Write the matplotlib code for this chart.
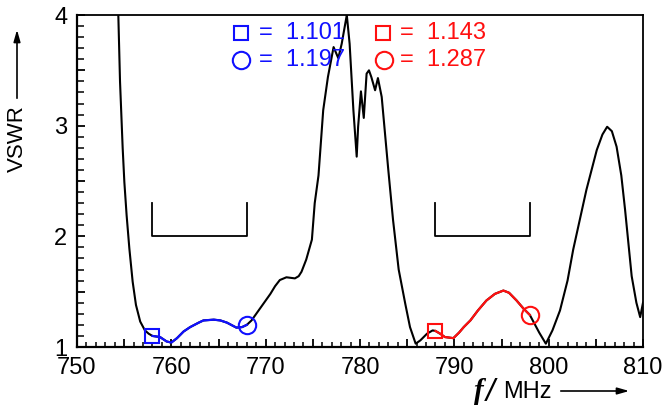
import matplotlib
matplotlib.use("Agg")
import matplotlib.pyplot as plt
from matplotlib.ticker import MultipleLocator, FuncFormatter

# ---- data ----
freq_all = [754.3, 754.38, 754.56, 754.84, 755.02, 755.26, 755.55, 755.9, 756.25, 756.7, 757.2, 757.6, 758.0,
            758.8, 759.5, 760.0, 760.6, 761.3, 762.0, 762.9, 763.4, 764.5, 765.2, 765.9, 766.9, 767.5, 768.0,
            768.5, 769.0, 769.5, 770.0, 770.5, 771.0, 771.5, 772.2, 773.1, 773.5, 773.8, 774.3, 774.9,
            775.2, 775.6, 776.1, 776.6, 777.2, 777.7, 778.06, 778.6, 778.9, 779.3, 779.65, 779.8, 780.1,
            780.4, 780.7, 780.95, 781.2, 781.6, 781.9, 782.3, 783.0, 783.5, 784.1, 784.8, 785.3, 785.9,
            786.4, 787.1, 787.7, 788.0,
            788.5, 789.0, 789.9, 790.5, 791.0, 791.7, 792.5, 793.4, 794.3, 795.2, 795.8, 796.6, 797.3, 798.0,
            798.5, 799.0, 799.7, 800.4, 801.2, 802.0, 802.6, 803.3, 804.0, 805.1, 805.7, 806.2, 806.7,
            807.2, 807.7, 808.1, 808.8, 809.3, 809.7, 810.0]
vswr_all = [4.2, 4.0, 3.40, 2.80, 2.49, 2.19, 1.89, 1.59, 1.38, 1.23, 1.15, 1.12, 1.10,
            1.09, 1.05, 1.04, 1.08, 1.14, 1.18, 1.22, 1.24, 1.247, 1.24, 1.22, 1.175, 1.18, 1.20,
            1.24, 1.30, 1.36, 1.42, 1.48, 1.55, 1.605, 1.63, 1.62, 1.64, 1.68, 1.79, 1.97,
            2.30, 2.55, 3.14, 3.44, 3.71, 3.61, 3.74, 4.0, 3.74, 3.14, 2.72, 2.99, 3.31,
            3.07, 3.47, 3.50, 3.44, 3.32, 3.43, 3.26, 2.60, 2.15, 1.70, 1.39, 1.18, 1.03,
            1.06, 1.12, 1.15, 1.145,
            1.12, 1.09, 1.08, 1.13, 1.18, 1.24, 1.33, 1.42, 1.48, 1.51, 1.49, 1.42, 1.35, 1.29,
            1.21, 1.13, 1.03, 1.15, 1.33, 1.60, 1.88, 2.15, 2.42, 2.78, 2.92, 2.99, 2.95,
            2.81, 2.55, 2.24, 1.64, 1.40, 1.27, 1.40]

freq_band1 = [758.0, 758.8, 759.5, 760.0, 760.6, 761.3, 762.0, 762.9, 763.4, 764.5, 765.2, 765.9, 766.9, 767.5, 768.0]
vswr_band1 = [1.10, 1.09, 1.05, 1.04, 1.08, 1.14, 1.18, 1.22, 1.24, 1.247, 1.24, 1.22, 1.175, 1.18, 1.20]

freq_band2 = [788.0, 788.5, 789.0, 789.9, 790.5, 791.0, 791.7, 792.5, 793.4, 794.3, 795.2, 795.8, 796.6, 797.3, 798.0]
vswr_band2 = [1.145, 1.12, 1.09, 1.08, 1.13, 1.18, 1.24, 1.33, 1.42, 1.48, 1.51, 1.49, 1.42, 1.35, 1.29]

band1_edges = [758, 768]
band2_edges = [788, 798]
bracket_low, bracket_high = 2.0, 2.3

band1_square, band1_circle = 1.101, 1.197
band2_square, band2_circle = 1.143, 1.287

x_ticks = [750, 760, 770, 780, 790, 800, 810]
y_ticks = [1, 2, 3, 4]

# ---- figure ----
W, H = 666, 407
fig = plt.figure(figsize=(W / 100, H / 100), dpi=100)
fig.patch.set_facecolor("white")

def px(x, y):
    return x / W, 1 - y / H

L, R, T, B = 77, 643, 15, 347
ax = fig.add_axes([L / W, 1 - B / H, (R - L) / W, (B - T) / H])
ax.set_xlim(750, 810)
ax.set_ylim(1, 4)

FONT = "Liberation Sans"
FS = 17
BLUE, RED = "#1010ff", "#ff1010"

ax.plot(freq_all, vswr_all, color="black", lw=1.5, solid_joinstyle="round", zorder=2)
ax.plot(freq_band1, vswr_band1, color=BLUE, lw=1.6, zorder=3)
ax.plot(freq_band2, vswr_band2, color=RED, lw=1.6, zorder=3)

# markers on curves
ax.plot([freq_band1[0]], [vswr_band1[0]], marker="s", ms=9.5, mfc="none", mec=BLUE, mew=1.5, zorder=4)
ax.plot([freq_band1[-1]], [vswr_band1[-1]], marker="o", ms=12.5, mfc="none", mec=BLUE, mew=1.5, zorder=4)
ax.plot([freq_band2[0]], [vswr_band2[0]], marker="s", ms=9.5, mfc="none", mec=RED, mew=1.5, zorder=4)
ax.plot([freq_band2[-1]], [vswr_band2[-1]], marker="o", ms=12.5, mfc="none", mec=RED, mew=1.5, zorder=4)

# brackets
for e in (band1_edges, band2_edges):
    ax.plot([e[0], e[0], e[1], e[1]], [bracket_high, bracket_low, bracket_low, bracket_high],
            color="black", lw=1.3, zorder=2)

# ticks
ax.xaxis.set_major_locator(MultipleLocator(5))
ax.xaxis.set_minor_locator(MultipleLocator(1))
ax.xaxis.set_major_formatter(FuncFormatter(lambda v, p: f"{int(round(v))}" if int(round(v)) in x_ticks else ""))
ax.yaxis.set_major_locator(MultipleLocator(0.5))
ax.yaxis.set_minor_locator(MultipleLocator(0.1))
ax.yaxis.set_major_formatter(FuncFormatter(lambda v, p: f"{int(round(v))}" if abs(v - round(v)) < 1e-6 and int(round(v)) in y_ticks else ""))
ax.tick_params(axis="x", which="major", direction="in", length=6, width=1.3, pad=7, labelsize=FS)
ax.tick_params(axis="x", which="minor", direction="in", length=3.5, width=1.1)
ax.tick_params(axis="y", which="major", direction="in", length=6, width=1.3, pad=7, labelsize=FS)
ax.tick_params(axis="y", which="minor", direction="in", length=5, width=1.1)
for lab in ax.get_xticklabels() + ax.get_yticklabels():
    lab.set_fontfamily(FONT)
for s in ax.spines.values():
    s.set_linewidth(1.3)
ax.spines["left"].set_linewidth(1.6)
ax.spines["bottom"].set_linewidth(1.6)

# annotation texts with marker symbols
def marker_at(xp, yp, m, ms, color):
    fx, fy = px(xp, yp)
    fig.add_artist(plt.Line2D([fx], [fy], marker=m, ms=ms, mfc="none", mec=color, mew=1.5,
                              transform=fig.transFigure))

marker_at(241, 33, "s", 9.5, BLUE)
marker_at(241, 60, "o", 12.5, BLUE)
marker_at(383, 33, "s", 9.5, RED)
marker_at(384, 60, "o", 12.5, RED)
for (x0, y0, val, c) in [(259, 33, band1_square, BLUE), (259, 60, band1_circle, BLUE),
                         (400, 33, band2_square, RED), (400, 60, band2_circle, RED)]:
    fx, fy = px(x0, y0)
    fig.text(fx, fy, f"=  {val:.3f}", color=c, fontsize=FS, family=FONT, ha="left", va="center")

# y label with arrow
fx, fy = px(17, 139)
fig.text(fx, fy, "VSWR", rotation=90, fontsize=16, family=FONT, ha="center", va="center")
fig.add_artist(matplotlib.patches.FancyArrowPatch(px(17, 101), px(17, 27), transform=fig.transFigure,
               arrowstyle="-|>,head_length=7,head_width=2.0", lw=1.2, color="black"))

# x label with arrow
fx, fy = px(474, 399)
fig.text(fx, fy, "f", fontsize=21, family="Liberation Serif", style="italic", weight="bold",
         ha="left", va="baseline")
fx, fy = px(486, 401)
fig.text(fx, fy, "/", fontsize=23, family=FONT, style="italic", ha="left", va="baseline")
fx, fy = px(503, 398)
fig.text(fx, fy, "MHz", fontsize=17, family=FONT, ha="left", va="baseline")
fig.add_artist(matplotlib.patches.FancyArrowPatch(px(558, 391), px(632, 391), transform=fig.transFigure,
               arrowstyle="-|>,head_length=7,head_width=2.0", lw=1.2, color="black"))

fig.savefig("out.png", dpi=100, facecolor="white")
